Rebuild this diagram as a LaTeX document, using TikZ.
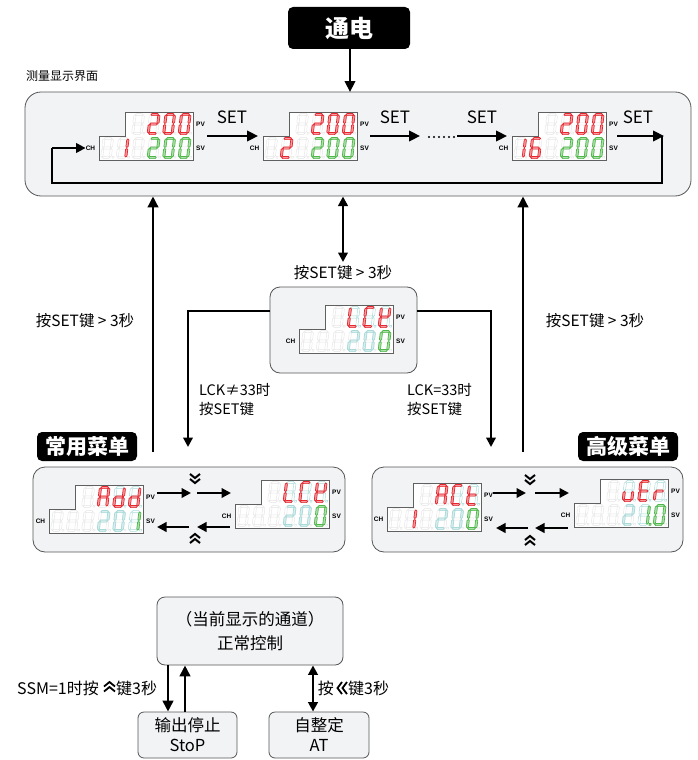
\documentclass[tikz,border=0pt]{standalone}
\usepackage{fontspec}
\setmainfont{Noto Sans CJK SC}
\newfontfamily\lblfont{Liberation Sans}
\usetikzlibrary{arrows.meta}
\definecolor{sred}{HTML}{E8242C}
\definecolor{sgreen}{HTML}{4DB848}
\definecolor{scyan}{HTML}{A9D9D9}
\definecolor{sgray}{HTML}{E6E6E6}
\definecolor{boxfill}{HTML}{F2F3F5}
\definecolor{boxline}{HTML}{555555}
% segment primitives (local coords, y down)
\newcommand\hsg[4]{\path[#4] ({#1+0.5},#3) -- ({#1+1.6},{#3-1.1}) -- ({#2-1.6},{#3-1.1}) -- ({#2-0.5},#3) -- ({#2-1.6},{#3+1.1}) -- ({#1+1.6},{#3+1.1}) -- cycle;}
\newcommand\vsg[4]{\path[#4] (#1,{#2+0.5}) -- ({#1+1.1},{#2+1.6}) -- ({#1+1.1},{#3-1.6}) -- (#1,{#3-0.5}) -- ({#1-1.1},{#3-1.6}) -- ({#1-1.1},{#2+1.6}) -- cycle;}
\newcommand\ssga[1]{\hsg{0}{8.5}{0}{#1}}
\newcommand\ssgb[1]{\vsg{8.5}{0}{9.5}{#1}}
\newcommand\ssgc[1]{\vsg{8.5}{9.5}{19}{#1}}
\newcommand\ssgd[1]{\hsg{0}{8.5}{19}{#1}}
\newcommand\ssge[1]{\vsg{0}{9.5}{19}{#1}}
\newcommand\ssgf[1]{\vsg{0}{0}{9.5}{#1}}
\newcommand\ssgg[1]{\hsg{0}{8.5}{9.5}{#1}}
\newcommand\ssgp[1]{\path[#1] (10.4,17.9) rectangle (12.2,19.7);}
\newcommand\ssgnone[1]{}
\def\dNone{none}
\def\dZero{a,b,c,d,e,f}
\def\dOne{b,c}
\def\dOneP{b,c,p}
\def\dTwo{a,b,g,e,d}
\def\dSix{a,f,g,e,d,c}
\def\dA{a,b,c,e,f,g}
\def\dd{b,c,d,e,g}
\def\dC{a,d,e,f}
\def\dL{d,e,f}
\def\dK{b,d,e,f,g}
\def\dt{d,e,f,g}
\def\du{c,d,e}
\def\dE{a,d,e,f,g}
\def\dr{e,g}
% digit: L T row index litlist litcolor dimcolor
\newcommand\dg[7]{\begin{scope}[shift={({#1+5+15.5*#4},{#2+2.5+24*#3})},xslant=0.12]
\foreach \s in {a,b,c,d,e,f,g,p}{\csname ssg\s\endcsname{sdim=#7}}
\foreach \s in #5{\csname ssg\s\endcsname{slit=#6}}
\end{scope}}
\newcommand\gd[4]{\dg{#1}{#2}{#3}{#4}{\dNone}{sgray}{sgray}}
% display frame: name L T
\newcommand\dframe[3]{%
\draw[dframe] ({#2},{#3+24}) -- ({#2+26},{#3+24}) -- ({#2+26},{#3}) -- ({#2+94},{#3}) -- ({#2+94},{#3+48}) -- ({#2},{#3+48}) -- cycle;
\node[seglbl] (#1-pv) at ({#2+101.5},{#3+12}) {PV};
\node[seglbl] (#1-sv) at ({#2+101.5},{#3+36}) {SV};
\node[seglbl] (#1-ch) at ({#2-8.5},{#3+36}) {CH};}
\newcommand\mainrest[2]{\gd{#1}{#2}{0}{2}\dg{#1}{#2}{0}{3}{\dTwo}{sred}{sgray}\dg{#1}{#2}{0}{4}{\dZero}{sred}{sgray}\dg{#1}{#2}{0}{5}{\dZero}{sred}{sgray}%
\gd{#1}{#2}{1}{2}\dg{#1}{#2}{1}{3}{\dTwo}{sgreen}{sgray}\dg{#1}{#2}{1}{4}{\dZero}{sgreen}{sgray}\dg{#1}{#2}{1}{5}{\dZero}{sgreen}{sgray}}
\newcommand\lckdisp[2]{\gd{#1}{#2}{0}{2}\dg{#1}{#2}{0}{3}{\dL}{sred}{scyan}\dg{#1}{#2}{0}{4}{\dC}{sred}{scyan}\dg{#1}{#2}{0}{5}{\dK}{sred}{scyan}%
\gd{#1}{#2}{1}{0}\gd{#1}{#2}{1}{1}\gd{#1}{#2}{1}{2}\dg{#1}{#2}{1}{3}{\dTwo}{scyan}{sgray}\dg{#1}{#2}{1}{4}{\dZero}{scyan}{sgray}\dg{#1}{#2}{1}{5}{\dZero}{sgreen}{sgray}}
\newcommand\chevdown[2]{\draw[chev] ({#1-5},{#2-5}) -- (#1,{#2-1}) -- ({#1+5},{#2-5});\draw[chev] ({#1-5},{#2}) -- (#1,{#2+4}) -- ({#1+5},{#2});}
\newcommand\chevup[2]{\draw[chev] ({#1-5},{#2+5}) -- (#1,{#2+1}) -- ({#1+5},{#2+5});\draw[chev] ({#1-5},{#2}) -- (#1,{#2-4}) -- ({#1+5},{#2});}
\begin{document}
\begin{tikzpicture}[x=1pt,y=-1pt,
  box/.style={draw=boxline, fill=boxfill, line width=0.8pt, rounded corners=8pt, inner sep=0pt},
  bigbox/.style={box, rounded corners=16pt},
  titlebox/.style={fill=black, rounded corners=5pt, text=white, inner sep=0pt, font=\bfseries\fontsize{21}{21}\selectfont},
  lbl/.style={font=\fontsize{15.5}{18}\selectfont, inner sep=0pt},
  setlbl/.style={font=\fontsize{17}{17}\selectfont, inner sep=0pt},
  arr/.style={line width=2.4pt, -{Triangle[length=11pt,width=10.5pt]}},
  marr/.style={line width=2.2pt, -{Triangle[length=9.5pt,width=9.5pt]}},
  darr/.style={line width=2.4pt, {Triangle[length=9.5pt,width=9.5pt]}-{Triangle[length=9.5pt,width=9.5pt]}},
  loopline/.style={line width=1.4pt},
  seglbl/.style={font=\lblfont\bfseries\fontsize{6.5}{6.5}\selectfont, inner sep=0pt},
  dframe/.style={draw=gray!75!black, fill=white, line width=0.7pt},
  sdim/.style={draw=#1, fill=white, line width=0.45pt},
  slit/.style={draw=#1, fill=#1!45, line width=0.7pt},
  chev/.style={line width=2pt, line join=miter}
]
\useasboundingbox (0,0) rectangle (697,760);
% ---------- boxes ----------
\node[titlebox, minimum width=122pt, minimum height=42pt, font=\bfseries\fontsize{24}{24}\selectfont] (pwr) at (349,28) {通电};
\node[lbl, anchor=west, font=\fontsize{12}{14}\selectfont] (mlbl) at (26,76) {测量显示界面};
\node[bigbox, minimum width=666pt, minimum height=104pt] (main) at (358,144) {};
\node[box, rounded corners=10pt, minimum width=147pt, minimum height=86pt] (lck) at (343.5,330) {};
\node[box, rounded corners=12pt, minimum width=312pt, minimum height=85pt] (menu1) at (189,509.5) {};
\node[box, rounded corners=12pt, minimum width=311pt, minimum height=85pt] (menu2) at (527.5,509.5) {};
\node[titlebox, minimum width=100pt, minimum height=29pt] (t1) at (87,446.5) {常用菜单};
\node[titlebox, minimum width=100pt, minimum height=29pt] (t2) at (628,446.5) {高级菜单};
\node[box, minimum width=186pt, minimum height=68pt, align=center, font=\fontsize{16.5}{24}\selectfont] (norm) at (250,631) {（当前显示的通道）\\正常控制};
\node[box, rounded corners=6pt, minimum width=99pt, minimum height=46pt, align=center, font=\fontsize{16.5}{20}\selectfont] (stop) at (187.5,735) {输出停止\\StoP};
\node[box, rounded corners=6pt, minimum width=100pt, minimum height=46pt, align=center, font=\fontsize{16.5}{20}\selectfont] (at) at (319,735) {自整定\\AT};
% ---------- main displays ----------
\dframe{d1}{99}{112}
\mainrest{99}{112}\gd{99}{112}{1}{0}\dg{99}{112}{1}{1}{\dOne}{sred}{sgray}
\dframe{d2}{263}{112}
\mainrest{263}{112}\gd{263}{112}{1}{0}\dg{263}{112}{1}{1}{\dTwo}{sred}{sgray}
\dframe{d3}{512}{112}
\mainrest{512}{112}\dg{512}{112}{1}{0}{\dOne}{sred}{sgray}\dg{512}{112}{1}{1}{\dSix}{sred}{sgray}
% ---------- LCK displays ----------
\dframe{d4}{299}{305}
\lckdisp{299}{305}
\dframe{d5}{235}{480}
\lckdisp{235}{480}
% ---------- Add ----------
\dframe{d6}{49}{485}
\gd{49}{485}{0}{2}\dg{49}{485}{0}{3}{\dA}{sred}{sgray}\dg{49}{485}{0}{4}{\dd}{sred}{scyan}\dg{49}{485}{0}{5}{\dd}{sred}{scyan}
\gd{49}{485}{1}{0}\gd{49}{485}{1}{1}\gd{49}{485}{1}{2}\dg{49}{485}{1}{3}{\dTwo}{scyan}{sgray}\dg{49}{485}{1}{4}{\dZero}{scyan}{sgray}\dg{49}{485}{1}{5}{\dOne}{sgreen}{scyan}
% ---------- ACt ----------
\dframe{d7}{387}{483}
\gd{387}{483}{0}{2}\dg{387}{483}{0}{3}{\dA}{sred}{sgray}\dg{387}{483}{0}{4}{\dC}{sred}{scyan}\dg{387}{483}{0}{5}{\dt}{sred}{scyan}
\gd{387}{483}{1}{0}\dg{387}{483}{1}{1}{\dOne}{sred}{sgray}\gd{387}{483}{1}{2}\dg{387}{483}{1}{3}{\dTwo}{scyan}{sgray}\dg{387}{483}{1}{4}{\dZero}{scyan}{sgray}\dg{387}{483}{1}{5}{\dZero}{sgreen}{sgray}
% ---------- uEr ----------
\dframe{d8}{574}{479}
\gd{574}{479}{0}{2}\dg{574}{479}{0}{3}{\du}{sred}{scyan}\dg{574}{479}{0}{4}{\dE}{sred}{scyan}\dg{574}{479}{0}{5}{\dr}{sred}{scyan}
\gd{574}{479}{1}{0}\gd{574}{479}{1}{1}\gd{574}{479}{1}{2}\dg{574}{479}{1}{3}{\dTwo}{scyan}{sgray}\dg{574}{479}{1}{4}{\dOneP}{sgreen}{scyan}\dg{574}{479}{1}{5}{\dZero}{sgreen}{sgray}
% ---------- main row arrows ----------
\coordinate (a1s) at (207,136); \coordinate (a1e) at (258,136);
\coordinate (a2s) at (370,136); \coordinate (a2e) at (420,136);
\coordinate (a3s) at (457,136); \coordinate (a3e) at (507,136);
\coordinate (a4s) at (617,136); \coordinate (a4e) at (664,136);
\draw[arr] (a1s) -- (a1e);
\draw[arr] (a2s) -- (a2e);
\draw[arr] (a3s) -- (a3e);
\draw[arr] (a4s) -- (a4e);
\node[setlbl] (s1) at (232,117) {SET};
\node[setlbl] (s2) at (395,117) {SET};
\node[setlbl] (s3) at (482,117) {SET};
\node[setlbl] (s4) at (638,117) {SET};
\foreach \i in {0,...,5} \fill (429+5*\i,137) circle (1.1);
\coordinate (lp1) at (662,136); \coordinate (lp2) at (52,183); \coordinate (lp3) at (52,148);
\draw[loopline] (lp1) |- (lp2) -- (lp3);
\draw[marr] (lp3) -- (d1-ch.west);
% ---------- power arrow ----------
\draw[arr] (pwr.south -| 350,0) -- (350,92);
% ---------- vertical arrows ----------
\coordinate (lu) at (153,452); \coordinate (ru) at (523,452);
\draw[arr] (lu) -- (lu |- main.south);
\draw[arr] (ru) -- (ru |- main.south);
\node[lbl] (ll) at (85,321) {按SET键 > 3秒};
\node[lbl] (rl) at (595,321) {按SET键 > 3秒};
\node[lbl] (cl) at (343,273) {按SET键 > 3秒};
\draw[darr] (343,196.5) -- (343,262);
\coordinate (lckL) at (lck.west |- 0,311); \coordinate (lckR) at (lck.east |- 0,311);
\coordinate (m1in) at (188,447); \coordinate (m2in) at (491,447);
\draw[marr] (lckL) -| (m1in);
\draw[marr] (lckR) -| (m2in);
\node[lbl, anchor=west, align=left, font=\fontsize{14.5}{19}\selectfont] (ne) at (199,400) {LCK≠33时\\按SET键};
\node[lbl, anchor=west, align=left, font=\fontsize{14.5}{19}\selectfont] (eq) at (407,400) {LCK=33时\\按SET键};
% ---------- menu arrows ----------
\coordinate (p1) at (157,493); \coordinate (p2) at (191,493); \coordinate (p3) at (197,493); \coordinate (p4) at (231,493);
\coordinate (q1) at (230,527); \coordinate (q2) at (197,527); \coordinate (q3) at (189,527); \coordinate (q4) at (157,527);
\draw[marr] (p1) -- (p2); \draw[marr] (p3) -- (p4);
\draw[marr] (q1) -- (q2); \draw[marr] (q3) -- (q4);
\chevdown{195}{479}
\chevup{195}{538}
\coordinate (r1) at (493,493); \coordinate (r2) at (526,493); \coordinate (r3) at (535,493); \coordinate (r4) at (569,493);
\coordinate (u1) at (568,528); \coordinate (u2) at (535,528); \coordinate (u3) at (528,528); \coordinate (u4) at (496,528);
\draw[marr] (r1) -- (r2); \draw[marr] (r3) -- (r4);
\draw[marr] (u1) -- (u2); \draw[marr] (u3) -- (u4);
\chevdown{530}{480}
\chevup{530}{540}
% ---------- bottom ----------
\draw[arr, line width=2.8pt] (norm.south -| 168,0) -- (stop.north -| 168,0);
\draw[arr, line width=2.8pt] (stop.north -| 185,0) -- (norm.south -| 185,0);
\draw[darr, line width=2.8pt] (norm.south -| 313,0) -- (at.north -| 313,0);
\node[lbl, anchor=east, font=\fontsize{16}{18}\selectfont] (ssm) at (99,688) {SSM=1时按};
\node[lbl, anchor=west, font=\fontsize{16}{18}\selectfont] (k1) at (116,688) {键3秒};
\draw[chev, line width=1.8pt] (104,691.5) -- (109.5,687) -- (115,691.5);
\draw[chev, line width=1.8pt] (104,686.5) -- (109.5,682) -- (115,686.5);
\node[lbl, anchor=east, font=\fontsize{16}{18}\selectfont] (an) at (334,688) {按};
\node[lbl, anchor=west, font=\fontsize{16}{18}\selectfont] (k2) at (348,688) {键3秒};
\draw[chev, line width=1.8pt] (342,682) -- (337.5,688) -- (342,694);
\draw[chev, line width=1.8pt] (347,682) -- (342.5,688) -- (347,694);
\end{tikzpicture}
\end{document}
